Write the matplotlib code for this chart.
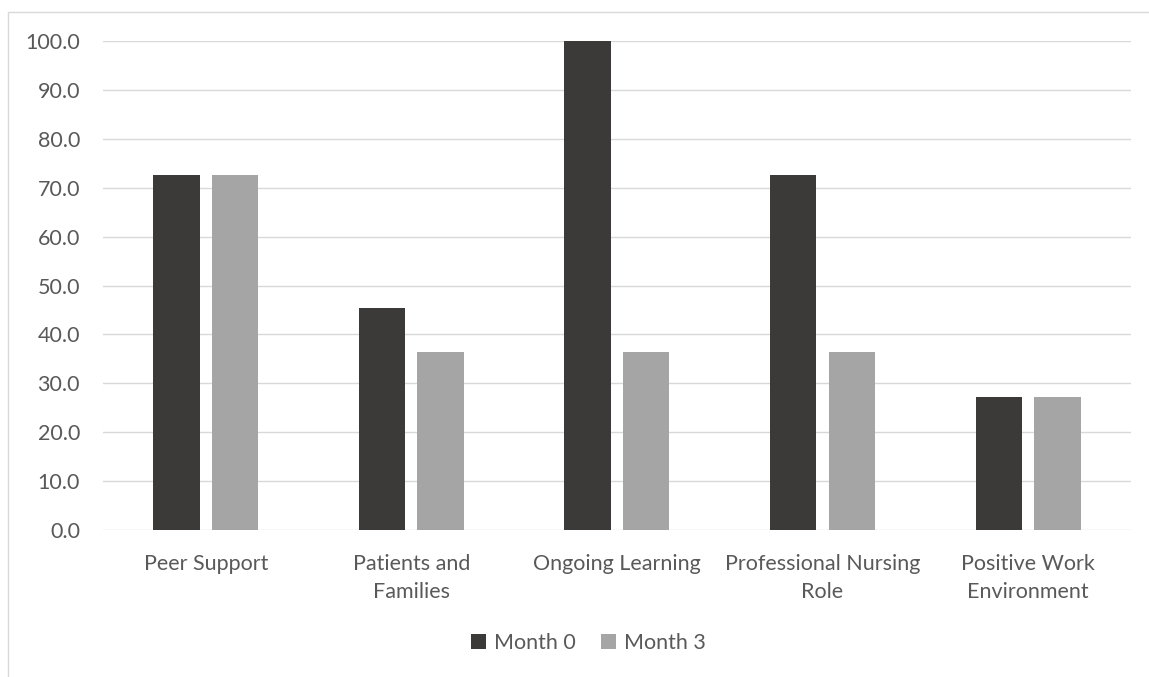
import matplotlib
matplotlib.use('Agg')
import matplotlib.pyplot as plt
from matplotlib.patches import Rectangle
from matplotlib.ticker import FormatStrFormatter
import numpy as np

categories = ['Peer Support', 'Patients and\nFamilies', 'Ongoing Learning',
              'Professional Nursing\nRole', 'Positive Work\nEnvironment']
month0 = [72.7, 45.5, 100.0, 72.7, 27.3]
month3 = [72.7, 36.4, 36.4, 36.4, 27.3]
series_names = ['Month 0', 'Month 3']
yticks = [0, 10, 20, 30, 40, 50, 60, 70, 80, 90, 100]

DARK = '#3b3a38'
LIGHT = '#a5a5a5'
TEXT = '#595959'
GRID = '#d9d9d9'
FS = 15.5

plt.rcParams['font.family'] = ['Lato', 'DejaVu Sans']

fig = plt.figure(figsize=(11.49, 6.77), dpi=100)
ax = fig.add_axes([0.0896, 0.2171, 0.8947, 0.7223])

# chart frame (only top and left edges fall inside the image)
fig.patches.append(Rectangle((7.5 / 1149, -0.1), 1.2, 1.1 - 11.5 / 677,
                             transform=fig.transFigure, fill=False,
                             edgecolor=GRID, linewidth=1.0))

x = np.arange(len(categories))
width = 0.226
offset = 0.1425
ax.bar(x - offset, month0, width, color=DARK, label=series_names[0], zorder=3)
ax.bar(x + offset, month3, width, color=LIGHT, label=series_names[1], zorder=3)

ax.set_xlim(-0.5, len(categories) - 0.5)
ax.set_ylim(0, 100)
ax.set_yticks(yticks)
ax.yaxis.set_major_formatter(FormatStrFormatter('%.1f'))
ax.set_xticks(x)
ax.set_xticklabels(categories, linespacing=1.5)

ax.grid(axis='y', color=GRID, linewidth=1.0, zorder=0)
for s in ax.spines.values():
    s.set_visible(False)
ax.tick_params(axis='both', length=0, labelsize=FS, colors=TEXT)
ax.tick_params(axis='x', pad=17)
ax.tick_params(axis='y', pad=16.5)
for lbl in ax.get_xticklabels():
    lbl.set_verticalalignment('top')

fig.legend(loc='center', bbox_to_anchor=(0.512, 0.05), ncol=2, frameon=False,
           fontsize=FS, labelcolor=TEXT, handlelength=0.7, handleheight=0.7,
           handletextpad=0.35, columnspacing=1.2)

fig.savefig('out.png', dpi=100, facecolor='white')
